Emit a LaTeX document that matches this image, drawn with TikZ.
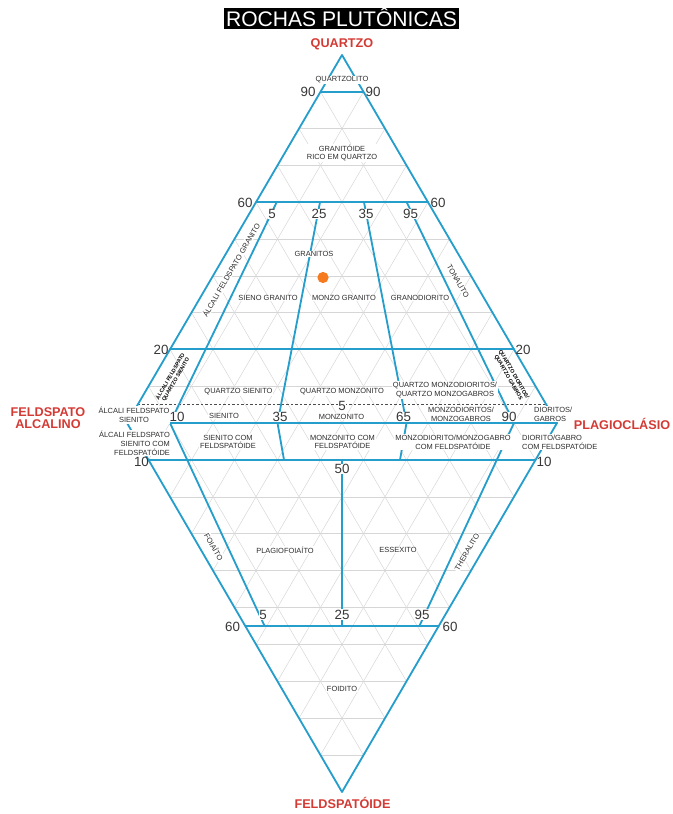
\documentclass[tikz,border=0pt]{standalone}
\usepackage{fontspec}
\setmainfont{Liberation Sans}
\definecolor{qblue}{RGB}{38,158,204}
\definecolor{qred}{RGB}{212,58,52}
\definecolor{numgray}{RGB}{55,55,55}
\definecolor{labgray}{RGB}{45,45,45}
\definecolor{dotorange}{RGB}{246,122,30}
\begin{document}
\begin{tikzpicture}[x=0.025cm,y=-0.025cm,
  edge/.style={draw=qblue,line width=1.3pt,line join=round,line cap=round},
  gridline/.style={draw=black!16,line width=0.35pt},
  field/.style={font={\fontsize{5.3}{6.3}\selectfont},text=labgray,align=center,fill=white,inner sep=0.6pt},
  narrow/.style={font={\bfseries\fontsize{3.8}{4.4}\selectfont},text=black,align=center,inner sep=0.3pt},
  num/.style={font={\fontsize{9.5}{10}\selectfont},text=numgray,fill=white,inner sep=0.4pt},
  sidenum/.style={font={\fontsize{9.5}{10}\selectfont},text=numgray,inner sep=0pt},
  apex/.style={font={\bfseries\fontsize{9}{10.5}\selectfont},text=qred,align=center,inner sep=0pt},
]
\useasboundingbox (0,0) rectangle (672,814);

% corners of the double triangle
\coordinate (Q) at (342,55);
\coordinate (A) at (127,423);
\coordinate (P) at (557,423);
\coordinate (F) at (342,792);

% 10 % grid in both triangles
\foreach \i in {1,...,9}{
  \draw[gridline] ({127+21.5*\i},{423-36.8*\i}) -- ({557-21.5*\i},{423-36.8*\i});
  \draw[gridline] ({127+43*\i},423) -- ({342+21.5*\i},{55+36.8*\i});
  \draw[gridline] ({557-43*\i},423) -- ({342-21.5*\i},{55+36.8*\i});
  \draw[gridline] ({127+21.5*\i},{423+36.9*\i}) -- ({557-21.5*\i},{423+36.9*\i});
  \draw[gridline] ({127+43*\i},423) -- ({342+21.5*\i},{792-36.9*\i});
  \draw[gridline] ({557-43*\i},423) -- ({342-21.5*\i},{792-36.9*\i});
}

% Q = 5 % boundary
\draw[black!70,line width=0.5pt,dash pattern=on 1.6pt off 1.6pt] (137.8,404.6) -- (546.2,404.6);

% outline and base
\draw[edge] (Q) -- (P) -- (F) -- (A) -- cycle;
\draw[edge] (A) -- (P);

% horizontal field boundaries
\coordinate (q90a) at (320.5,91.8);  \coordinate (q90b) at (363.5,91.8);
\coordinate (q60a) at (256,202.2);   \coordinate (q60b) at (428,202.2);
\coordinate (q20a) at (170,349.4);   \coordinate (q20b) at (514,349.4);
\coordinate (f10a) at (148.5,459.9); \coordinate (f10b) at (535.5,459.9);
\coordinate (f60a) at (245.3,626);   \coordinate (f60b) at (438.7,626);
\draw[edge] (q90a) -- (q90b);
\draw[edge] (q60a) -- (q60b);
\draw[edge] (q20a) -- (q20b);
\draw[edge] (f10a) -- (f10b);
\draw[edge] (f60a) -- (f60b);

% upper triangle dividers
\coordinate (u1) at (276.7,202.2); \coordinate (b1) at (170,423);
\coordinate (u2) at (320,202.2);   \coordinate (b2) at (277.5,423);
\coordinate (u3) at (364,202.2);   \coordinate (b3) at (406.5,423);
\coordinate (u4) at (406.7,202.2); \coordinate (b4) at (514,423);
\draw[edge] (u1) -- (b1);
\draw[edge] (u2) -- (b2);
\draw[edge] (u3) -- (b3);
\draw[edge] (u4) -- (b4);

% lower triangle dividers
\coordinate (l1) at (264.6,626);
\coordinate (l2) at (284,459.9);
\coordinate (l3) at (400,459.9);
\coordinate (l4) at (419.4,626);
\coordinate (m1) at (342,459.9); \coordinate (m2) at (342,626);
\draw[edge] (b1) -- (l1);
\draw[edge] (b2) -- (l2);
\draw[edge] (b3) -- (l3);
\draw[edge] (b4) -- (l4);
\draw[edge] (m1) -- (m2);

% title
\node[fill=black,text=white,font={\fontsize{15}{15.5}\selectfont},text height=10.8pt,text depth=0pt,inner xsep=1.6pt,inner ysep=2.2pt] (title) at (341.5,18.5) {ROCHAS PLUTÔNICAS};

% corner names
\node[apex] (nQ) at (342,44) {QUARTZO};
\node[apex] (nA) at (48,418) {FELDSPATO\\[-1.5pt]ALCALINO};
\node[apex] (nP) at (622,424) {PLAGIOCLÁSIO};
\node[apex] (nF) at (342.5,803) {FELDSPATÓIDE};

% field names
\node[field] (f1) at (342,80) {QUARTZOLITO};
\node[field] (f2) at (342,153) {GRANITÓIDE\\RICO EM QUARTZO};
\node[field] (f3) at (314,254) {GRANITOS};
\node[field] (f4) at (268,298) {SIENO GRANITO};
\node[field] (f5) at (344,298) {MONZO GRANITO};
\node[field] (f6) at (420,298) {GRANODIORITO};
\node[field,rotate=60] (f7) at (231,270) {ÁLCALI FELDSPATO GRANITO};
\node[field,rotate=-60] (f8) at (458,281) {TONALITO};
\node[narrow,rotate=60] (f9) at (173,378) {ÁLCALI FELDSPATO\\QUARTZO SIENITO};
\node[narrow,rotate=-60] (f10) at (511,376) {QUARTZO DIORITOS/\\QUARTZO GABROS};
\node[field] (f11) at (238.5,392) {QUARTZO SIENITO};
\node[field] (f12) at (342,392) {QUARTZO MONZONITO};
\node[field] (f13) at (445,390) {QUARTZO MONZODIORITOS/\\QUARTZO MONZOGABROS};
\node[field] (f14) at (134,415) {ÁLCALI FELDSPATO\\SIENITO};
\node[field] (f15) at (224,415.5) {SIENITO};
\node[field] (f16) at (341.5,416.5) {MONZONITO};
\node[field] (f17) at (461,414) {MONZODIORITOS/\\MONZOGABROS};
\node[field,anchor=west,align=left] (f18) at (533,414) {DIORITOS/\\GABROS};
\node[field,anchor=east,align=right] (f19) at (171,443) {ÁLCALI FELDSPATO\\SIENITO COM\\FELDSPATÓIDE};
\node[field] (f20) at (228,442) {SIENITO COM\\FELDSPATÓIDE};
\node[field] (f21) at (342.5,442) {MONZONITO COM\\FELDSPATÓIDE};
\node[field] (f22) at (453,442) {MONZODIORITO/MONZOGABRO\\COM FELDSPATÓIDE};
\node[field,anchor=west,align=left] (f23) at (521,442) {DIORITO/GABRO\\COM FELDSPATÓIDE};
\node[field] (f24) at (285,550) {PLAGIOFOIAÍTO};
\node[field] (f25) at (398,550) {ESSEXITO};
\node[field,rotate=-60] (f26) at (214,547) {FOIAÍTO};
\node[field,rotate=60] (f27) at (467,552) {THERALITO};
\node[field] (f28) at (342,689) {FOIDITO};

% scale values
\node[sidenum] (n1) at (308,92) {90};
\node[sidenum] (n2) at (373,92) {90};
\node[sidenum] (n3) at (245,203) {60};
\node[sidenum] (n4) at (438,203) {60};
\node[num] (n5) at (272,214) {5};
\node[num] (n6) at (319,214) {25};
\node[num] (n7) at (366,214) {35};
\node[num] (n8) at (410.5,214) {95};
\node[sidenum] (n9) at (161,350) {20};
\node[sidenum] (n10) at (523,350) {20};
\node[num] (n11) at (177,417) {10};
\node[num] (n12) at (280,417) {35};
\node[num] (n13) at (342,405.5) {5};
\node[num] (n14) at (403.5,417) {65};
\node[num] (n15) at (509,417) {90};
\node[sidenum] (n16) at (141.5,461.5) {10};
\node[sidenum] (n17) at (544,461.5) {10};
\node[num] (n18) at (342,469) {50};
\node[num] (n19) at (263,614.5) {5};
\node[num] (n20) at (342,614.5) {25};
\node[num] (n21) at (422,614.5) {95};
\node[sidenum] (n22) at (232.5,626.5) {60};
\node[sidenum] (n23) at (450,626.5) {60};

% sample point
\fill[dotorange] (323,277.5) circle[radius=5.6];
\end{tikzpicture}
\end{document}
